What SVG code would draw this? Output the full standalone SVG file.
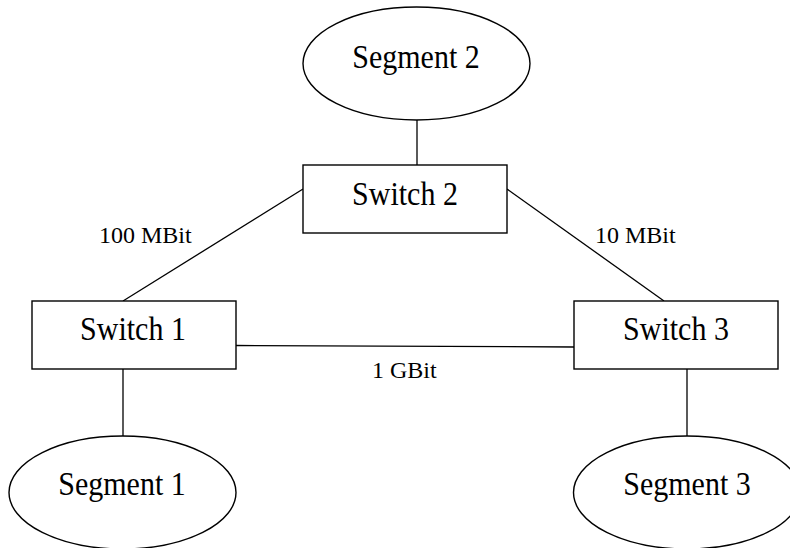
<svg xmlns="http://www.w3.org/2000/svg" width="790" height="548" viewBox="0 0 790 548">
<style>
.shape{fill:#fff;stroke:#000;stroke-width:1.4}
.conn{stroke:#000;stroke-width:1.3;fill:none}
.nt{font-family:"Liberation Serif","Times New Roman",serif;font-size:30px;fill:#000;text-anchor:middle}
.lt{font-family:"Liberation Serif","Times New Roman",serif;font-size:24px;fill:#000}
</style>
<rect width="790" height="548" fill="#fff"/>
<g id="connectors">
<line class="conn" x1="417" y1="120" x2="417" y2="165"/>
<line class="conn" x1="303" y1="189" x2="123" y2="301"/>
<line class="conn" x1="507" y1="189" x2="664" y2="301"/>
<line class="conn" x1="236" y1="345.5" x2="574" y2="347"/>
<line class="conn" x1="123" y1="369" x2="123" y2="436"/>
<line class="conn" x1="687" y1="369" x2="687" y2="436"/>
<text class="lt" x="99" y="243">100 MBit</text>
<text class="lt" x="595" y="243">10 MBit</text>
<text class="lt" x="372" y="378">1 GBit</text>
</g>
<g id="segment2">
<ellipse class="shape" cx="416.5" cy="63.5" rx="113.5" ry="56.5"/>
<text class="nt" transform="matrix(1 0 0 1.12 416 68)">Segment 2</text>
</g>
<g id="switch2">
<rect class="shape" x="303" y="165" width="204" height="68"/>
<text class="nt" transform="matrix(1 0 0 1.12 405 205)">Switch 2</text>
</g>
<g id="switch1">
<rect class="shape" x="32" y="301" width="204" height="68"/>
<text class="nt" transform="matrix(1 0 0 1.12 133 340)">Switch 1</text>
</g>
<g id="switch3">
<rect class="shape" x="574" y="301" width="204" height="68"/>
<text class="nt" transform="matrix(1 0 0 1.12 676 340)">Switch 3</text>
</g>
<g id="segment1">
<ellipse class="shape" cx="122.5" cy="492.5" rx="113.5" ry="56.5"/>
<text class="nt" transform="matrix(1 0 0 1.12 122 495)">Segment 1</text>
</g>
<g id="segment3">
<ellipse class="shape" cx="687" cy="492.5" rx="113.5" ry="56.5"/>
<text class="nt" transform="matrix(1 0 0 1.12 687 495)">Segment 3</text>
</g>
</svg>
